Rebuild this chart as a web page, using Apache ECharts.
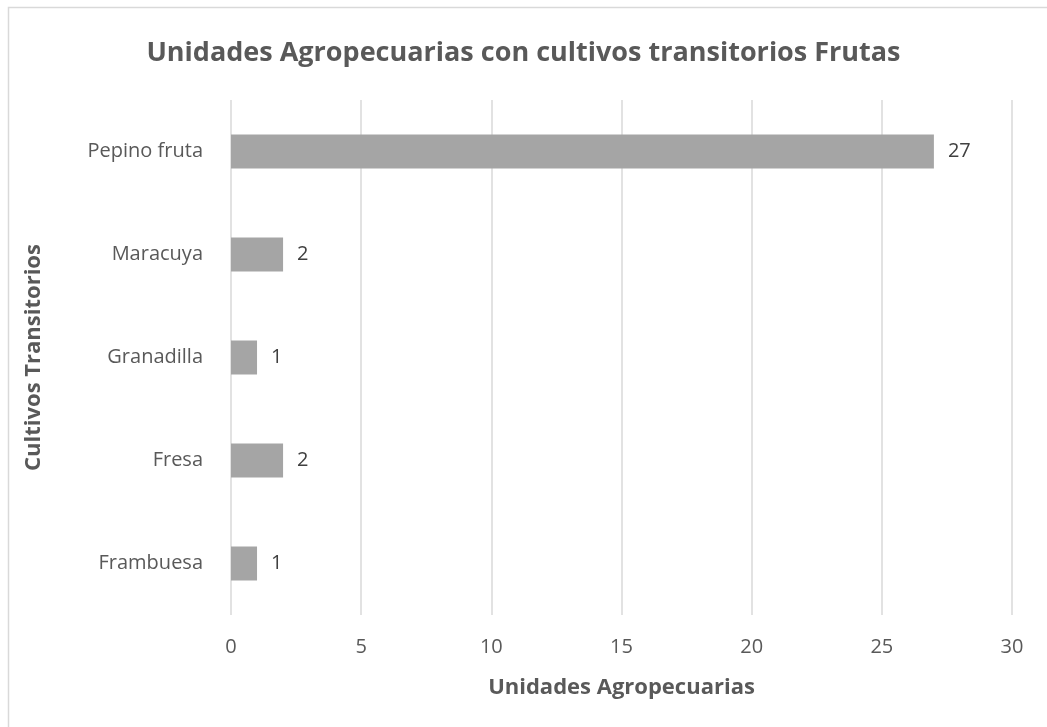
<!DOCTYPE html>
<html>
<head>
<meta charset="utf-8">
<script src="https://cdn.jsdelivr.net/npm/echarts@6/dist/echarts.min.js"></script>
<style>
  html, body { margin: 0; padding: 0; background: #fff; }
  #chart { width: 1047px; height: 727px; }
</style>
</head>
<body>
<div id="chart"></div>
<script>
// cultivos (de abajo hacia arriba)
var cultivos = ['Frambuesa', 'Fresa', 'Granadilla', 'Maracuya', 'Pepino fruta'];
var unidades = [1, 2, 1, 2, 27];

var font = '"Open Sans", "Noto Sans", sans-serif';
var myChart = echarts.init(document.getElementById('chart'));

var option = {
  backgroundColor: '#ffffff',
  title: {
    text: 'Unidades Agropecuarias con cultivos transitorios Frutas',
    left: 'center',
    top: 35,
    textStyle: {
      color: '#595959',
      fontFamily: font,
      fontSize: 27,
      fontWeight: 'bold'
    }
  },
  graphic: [{
    type: 'rect',
    shape: { x: 8.5, y: 7.5, width: 1060, height: 740 },
    style: { fill: 'none', stroke: '#d9d9d9', lineWidth: 1.5 },
    silent: true
  }],
  grid: {
    left: 231,
    right: 35,
    top: 100,
    bottom: 112
  },
  xAxis: {
    type: 'value',
    min: 0,
    max: 30,
    interval: 5,
    name: 'Unidades Agropecuarias',
    nameLocation: 'middle',
    nameGap: 62,
    nameTextStyle: {
      color: '#595959',
      fontFamily: font,
      fontSize: 22,
      fontWeight: 'bold'
    },
    axisLine: { show: false },
    axisTick: { show: false },
    axisLabel: {
      color: '#595959',
      fontFamily: font,
      fontSize: 20,
      margin: 22
    },
    splitLine: {
      lineStyle: { color: '#d9d9d9', width: 1.5 }
    }
  },
  yAxis: {
    type: 'category',
    data: cultivos,
    name: 'Cultivos Transitorios',
    nameLocation: 'middle',
    nameGap: 186,
    nameRotate: 90,
    nameTextStyle: {
      color: '#595959',
      fontFamily: font,
      fontSize: 22,
      fontWeight: 'bold'
    },
    axisLine: { show: false },
    axisTick: { show: false },
    axisLabel: {
      color: '#595959',
      fontFamily: font,
      fontSize: 20,
      margin: 28
    }
  },
  series: [{
    type: 'bar',
    data: unidades,
    barWidth: 34,
    itemStyle: { color: '#a5a5a5' },
    label: {
      show: true,
      position: 'right',
      distance: 14,
      color: '#404040',
      fontFamily: font,
      fontSize: 20
    }
  }]
};
myChart.setOption(option);
</script>
</body>
</html>
